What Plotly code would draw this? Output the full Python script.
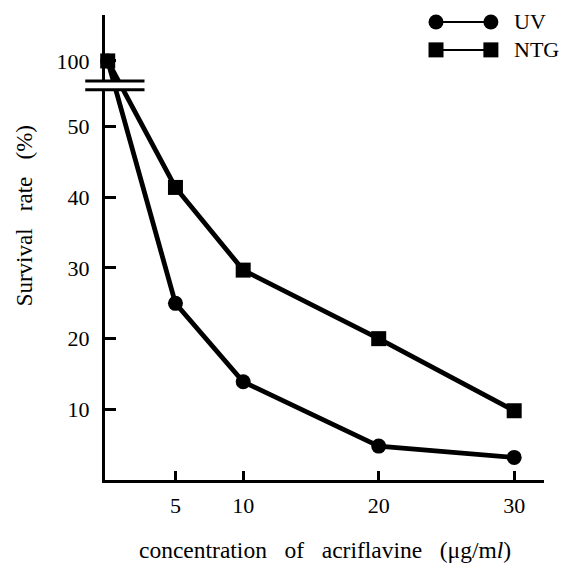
import plotly.graph_objects as go

# ---- data ----
concentration = [0, 5, 10, 20, 30]          # acriflavine, ug/ml
uv_survival = [100, 25, 13.9, 4.8, 3.2]       # %
ntg_survival = [100, 41.4, 29.7, 20.0, 9.8]   # %
y_tick_values = [10, 20, 30, 40, 50, 100]
x_tick_values = [5, 10, 20, 30]

# broken y axis: values above BREAK are compressed
BREAK = 55.0
TOP_POS = 59.3  # display position of 100


def disp(v):
    if v <= BREAK:
        return v
    return BREAK + (v - BREAK) * (TOP_POS - BREAK) / (100 - BREAK)


FONT = "Liberation Serif"
fig = go.Figure()

fig.add_trace(go.Scatter(
    x=concentration, y=[disp(v) for v in uv_survival], mode="lines+markers",
    line=dict(color="black", width=4.8),
    marker=dict(symbol="circle", size=15, color="black"),
    cliponaxis=False, showlegend=False, name="UV"))
fig.add_trace(go.Scatter(
    x=concentration, y=[disp(v) for v in ntg_survival], mode="lines+markers",
    line=dict(color="black", width=4.8),
    marker=dict(symbol="square", size=15, color="black"),
    cliponaxis=False, showlegend=False, name="NTG"))

# legend glyphs on an overlay axis (0..1)
for sym, yy in (("circle", 0.985), ("square", 0.925)):
    fig.add_trace(go.Scatter(
        x=[0.754, 0.879], y=[yy, yy], xaxis="x2", yaxis="y2",
        mode="lines+markers", line=dict(color="black", width=2),
        marker=dict(symbol=sym, size=15, color="black"),
        cliponaxis=False, showlegend=False, hoverinfo="skip"))

# the page body has an 8px margin, so the figure is 8px smaller and offset
fig.update_layout(
    width=559, height=555,
    margin=dict(l=97, r=23, t=7, b=83),
    paper_bgcolor="white", plot_bgcolor="white",
    font=dict(family=FONT, size=22, color="black"),
    xaxis=dict(range=[-0.2, 32.2], showgrid=False, zeroline=False,
               showline=True, linecolor="black", linewidth=3,
               ticks="inside", ticklen=9, tickwidth=3, tickcolor="black",
               tickvals=x_tick_values, ticktext=[str(v) for v in x_tick_values],
               ticklabelstandoff=4,
               tickfont=dict(family=FONT, size=22)),
    yaxis=dict(range=[0, 65.8], showgrid=False, zeroline=False,
               showline=True, linecolor="black", linewidth=3,
               ticks="inside", ticklen=11, tickwidth=3, tickcolor="black",
               tickvals=[disp(v) for v in y_tick_values],
               ticktext=[str(v) for v in y_tick_values],
               ticklabelstandoff=8,
               tickfont=dict(family=FONT, size=22)),
    xaxis2=dict(range=[0, 1], overlaying="x", visible=False),
    yaxis2=dict(range=[0, 1], overlaying="y", visible=False),
)

# axis break marks
fig.add_shape(type="rect", xref="paper", yref="paper",
              x0=-0.045, x1=0.09, y0=0.839, y1=0.858,
              fillcolor="white", line=dict(width=0), layer="above")
for yy in (0.839, 0.858):
    fig.add_shape(type="line", xref="paper", yref="paper",
                  x0=-0.045, x1=0.09, y0=yy, y1=yy,
                  line=dict(color="black", width=3), layer="above")

# legend text
fig.add_annotation(x=0.927, y=0.985, xref="paper", yref="paper", text="UV",
                   showarrow=False, xanchor="left", yanchor="middle",
                   font=dict(family=FONT, size=22))
fig.add_annotation(x=0.927, y=0.925, xref="paper", yref="paper", text="NTG",
                   showarrow=False, xanchor="left", yanchor="middle",
                   font=dict(family=FONT, size=22))

# axis titles
G = "\u2002 "
fig.add_annotation(x=0.5, y=-0.1505, xref="paper", yref="paper",
                   text=f"concentration{G}of{G}acriflavine{G}(μg/m<i>l</i>)",
                   showarrow=False, xanchor="center", yanchor="middle",
                   font=dict(family=FONT, size=23.5))
g = "\u2002 "
fig.add_annotation(x=-0.1845, y=0.567, xref="paper", yref="paper",
                   text=f"Survival{g}rate{g}(%)", textangle=-90,
                   showarrow=False, xanchor="center", yanchor="middle",
                   font=dict(family=FONT, size=23))

fig.write_html("out.html")
